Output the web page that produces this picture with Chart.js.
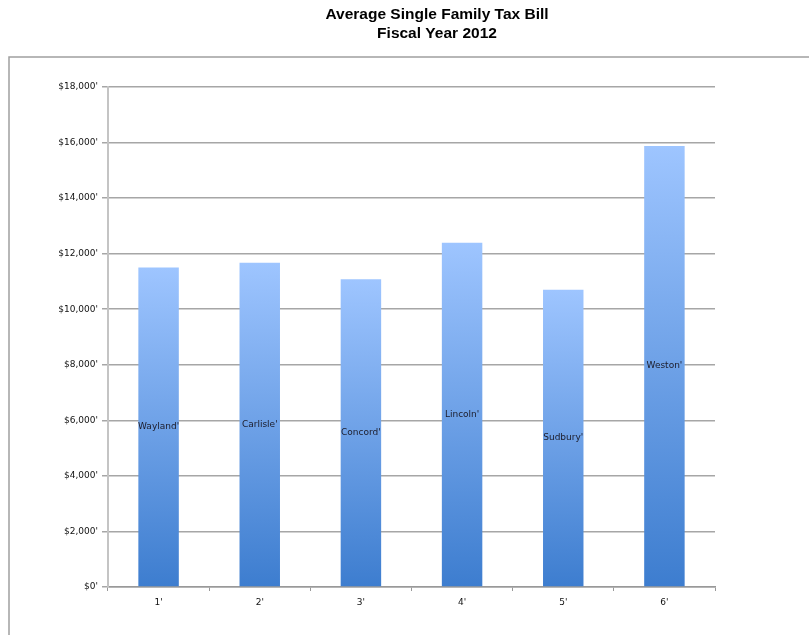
<!DOCTYPE html>
<html>
<head>
<meta charset="utf-8">
<script src="https://cdn.jsdelivr.net/npm/chart.js@4.4.0/dist/chart.umd.min.js"></script>
<style>
  html, body { margin: 0; padding: 0; background: #fff; }
  #wrap { width: 809px; height: 635px; position: relative; }
</style>
</head>
<body>
<div id="wrap"><canvas id="taxChart" width="809" height="635"></canvas></div>
<script>
// --- Datos ---
const categorias = ["1'", "2'", "3'", "4'", "5'", "6'"];
const pueblos = ["Wayland'", "Carlisle'", "Concord'", "Lincoln'", "Sudbury'", "Weston'"];
const impuestos = [11500, 11670, 11080, 12390, 10700, 15880];
const titulo = ['Average Single Family Tax Bill', 'Fiscal Year 2012'];

// marco gris y titulo (el titulo va algo a la derecha del centro, como en el original)
const marcoPlugin = {
    id: 'marco',
    beforeDraw(chart) {
        const ctx = chart.ctx;
        ctx.save();
        ctx.strokeStyle = '#a0a0a0';
        ctx.lineWidth = 1.5;
        ctx.beginPath();
        ctx.moveTo(9, 700);
        ctx.lineTo(9, 57);
        ctx.lineTo(820, 57);
        ctx.stroke();

        ctx.fillStyle = '#000';
        ctx.font = 'bold 15.5px "Liberation Sans"';
        ctx.textAlign = 'center';
        ctx.textBaseline = 'middle';
        titulo.forEach((linea, i) => ctx.fillText(linea, 437, 15 + i * 19));
        ctx.restore();
    }
};

// nombre del pueblo en medio de cada barra
const etiquetasPlugin = {
    id: 'etiquetas',
    afterDatasetsDraw(chart) {
        const ctx = chart.ctx;
        const meta = chart.getDatasetMeta(0);
        ctx.save();
        ctx.font = '9px "DejaVu Sans"';
        ctx.fillStyle = '#1c1c2a';
        ctx.textAlign = 'center';
        ctx.textBaseline = 'middle';
        meta.data.forEach((bar, i) => {
            ctx.fillText(pueblos[i], bar.x, (bar.y + bar.base) / 2);
        });
        ctx.restore();
    }
};

function degradado(context) {
    const chart = context.chart;
    if (!chart.chartArea || !chart.scales.y) return '#6ca0e8';
    const yTop = chart.scales.y.getPixelForValue(context.raw);
    const yBase = chart.scales.y.getPixelForValue(0);
    const g = chart.ctx.createLinearGradient(0, yTop, 0, yBase);
    g.addColorStop(0, '#9ec5ff');
    g.addColorStop(1, '#3d7dcf');
    return g;
}

new Chart(document.getElementById('taxChart').getContext('2d'), {
    type: 'bar',
    data: {
        labels: categorias,
        datasets: [{
            data: impuestos,
            backgroundColor: degradado,
            borderWidth: 0,
            barPercentage: 0.4,
            categoryPercentage: 1.0
        }]
    },
    options: {
        responsive: false,
        animation: false,
        layout: { padding: { left: 0, right: 94, top: 87, bottom: 0 } },
        plugins: {
            legend: { display: false },
            tooltip: { enabled: false },
            title: { display: false }
        },
        scales: {
            x: {
                afterFit: s => { s.height = 48; },
                grid: { drawOnChartArea: false, drawTicks: true, tickLength: 4, color: '#999', lineWidth: 1 },
                border: { color: '#999', width: 1.5 },
                ticks: { color: '#111', font: { family: '"DejaVu Sans"', size: 9 }, padding: 6 }
            },
            y: {
                min: 0,
                max: 18000,
                afterFit: s => { s.width = 108; },
                grid: { color: '#a6a6a6', lineWidth: 1.5, tickLength: 6 },
                border: { color: '#c4c4c4', width: 2 },
                ticks: {
                    stepSize: 2000,
                    color: '#111',
                    font: { family: '"DejaVu Sans"', size: 9 },
                    padding: 4,
                    callback: v => '$' + v.toLocaleString('en-US') + "'"
                }
            }
        }
    },
    plugins: [marcoPlugin, etiquetasPlugin]
});
</script>
</body>
</html>
